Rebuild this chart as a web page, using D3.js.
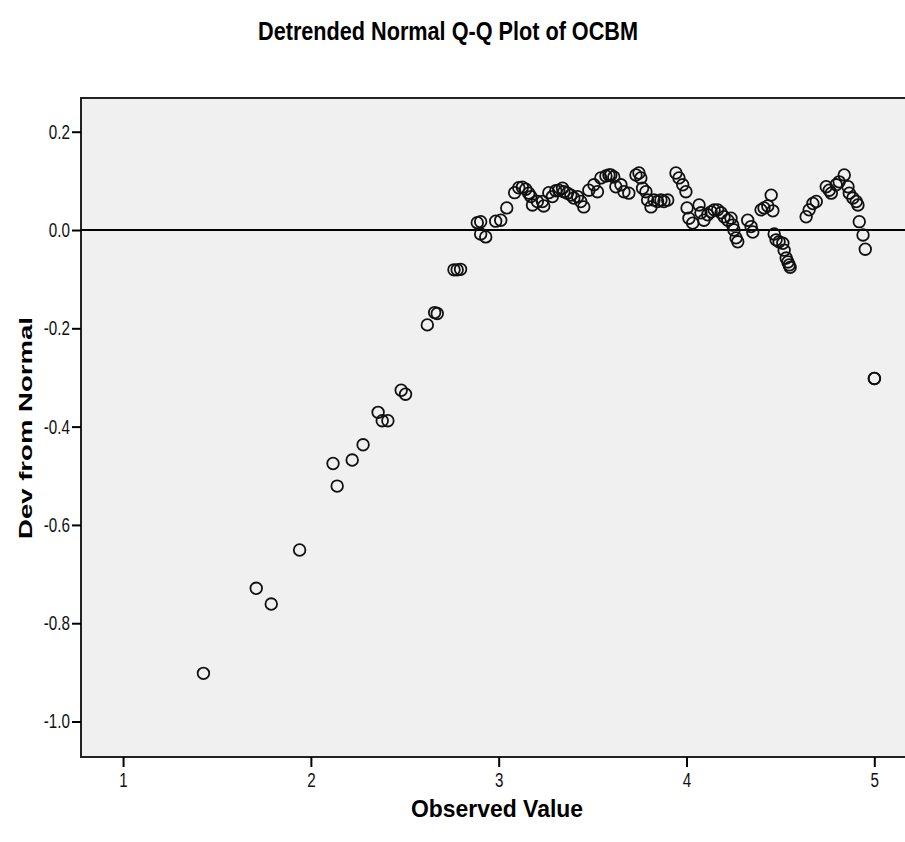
<!DOCTYPE html>
<html>
<head>
<meta charset="utf-8">
<script src="https://cdn.jsdelivr.net/npm/d3@7"></script>
<style>
  body { margin: 0; background: #fff; }
  text { font-family: "Liberation Sans", Arial, sans-serif; }
</style>
</head>
<body>
<svg id="qq"></svg>
<script>
var observed = [
  1.428, 1.709, 1.789, 1.940, 2.118, 2.140, 2.220, 2.278, 2.358, 2.380, 2.410,
  2.481, 2.504, 2.620, 2.659, 2.673, 2.762, 2.779, 2.797,
  2.886, 2.904, 2.904, 2.931, 2.984, 3.011, 3.043, 3.085, 3.107, 3.126, 3.144,
  3.160, 3.171, 3.180, 3.206, 3.233, 3.240, 3.267, 3.286, 3.304, 3.320, 3.340,
  3.347, 3.366, 3.384, 3.400, 3.420, 3.437, 3.453, 3.480, 3.507, 3.526, 3.544,
  3.571, 3.587, 3.597, 3.613, 3.624, 3.651, 3.667, 3.693, 3.731, 3.747, 3.757,
  3.766, 3.784, 3.793, 3.811, 3.827, 3.846, 3.864, 3.880, 3.900, 3.944, 3.960,
  3.980, 3.997, 4.003, 4.013, 4.033, 4.067, 4.077, 4.093, 4.113, 4.131, 4.147,
  4.166, 4.184, 4.200, 4.220, 4.237, 4.246, 4.253, 4.264, 4.273, 4.326, 4.344,
  4.353, 4.397, 4.413, 4.433, 4.451, 4.460, 4.467, 4.477, 4.493, 4.513, 4.520,
  4.531, 4.540, 4.547, 4.552, 4.637, 4.653, 4.673, 4.691, 4.744, 4.760, 4.771,
  4.797, 4.813, 4.840, 4.860, 4.867, 4.886, 4.904, 4.913, 4.920, 4.940, 4.952,
  5.000, 5.001
];
var devFromNormal = [
  -0.902, -0.729, -0.761, -0.651, -0.475, -0.521, -0.468, -0.437, -0.371, -0.388, -0.388,
  -0.326, -0.334, -0.193, -0.168, -0.170, -0.081, -0.081, -0.080,
  0.015, 0.017, -0.008, -0.014, 0.018, 0.020, 0.045, 0.076, 0.086, 0.087, 0.083,
  0.075, 0.068, 0.051, 0.058, 0.058, 0.049, 0.076, 0.068, 0.080, 0.081, 0.085,
  0.078, 0.075, 0.071, 0.065, 0.068, 0.058, 0.047, 0.081, 0.092, 0.078, 0.106,
  0.110, 0.112, 0.112, 0.108, 0.088, 0.092, 0.078, 0.075, 0.112, 0.116, 0.106,
  0.085, 0.078, 0.061, 0.047, 0.061, 0.058, 0.061, 0.058, 0.061, 0.116, 0.106,
  0.092, 0.078, 0.045, 0.024, 0.014, 0.051, 0.035, 0.020, 0.031, 0.037, 0.041,
  0.041, 0.035, 0.027, 0.020, 0.024, 0.010, 0.000, -0.016, -0.024, 0.020, 0.007,
  -0.004, 0.041, 0.045, 0.049, 0.071, 0.039, -0.008, -0.020, -0.024, -0.027, -0.041,
  -0.057, -0.065, -0.071, -0.076, 0.027, 0.041, 0.054, 0.058, 0.088, 0.081, 0.075,
  0.092, 0.098, 0.112, 0.088, 0.075, 0.065, 0.058, 0.051, 0.017, -0.010, -0.039,
  -0.302, -0.302
];
var xTicks = [1, 2, 3, 4, 5];
var yTicks = [0.2, 0.0, -0.2, -0.4, -0.6, -0.8, -1.0];

var data = observed.map(function(v, i) { return {x: v, y: devFromNormal[i]}; });

var width = 905, height = 842;
var plot = {left: 81, top: 98, right: 925, bottom: 757};

var svg = d3.select("#qq")
  .attr("width", width)
  .attr("height", height);

var x = d3.scaleLinear()
  .domain([0.776, 5.27])
  .range([plot.left, plot.right]);

var y = d3.scaleLinear()
  .domain([-1.0722, 0.2686])
  .range([plot.bottom, plot.top]);

// squeeze text horizontally so it looks like the narrow SPSS font
function condense(sel, k) {
  sel.each(function() {
    var w = this.getComputedTextLength();
    d3.select(this)
      .attr("textLength", w * k)
      .attr("lengthAdjust", "spacingAndGlyphs");
  });
}

// plot background
svg.append("rect")
  .attr("x", plot.left)
  .attr("y", plot.top)
  .attr("width", plot.right - plot.left)
  .attr("height", plot.bottom - plot.top)
  .attr("fill", "#f0f0f0")
  .attr("stroke", "#222")
  .attr("stroke-width", 2);

// reference line at zero
svg.append("line")
  .attr("x1", plot.left)
  .attr("x2", plot.right)
  .attr("y1", y(0))
  .attr("y2", y(0))
  .attr("stroke", "#000")
  .attr("stroke-width", 2);

// Y axis
var yAxis = svg.append("g")
  .attr("transform", "translate(" + plot.left + ",0)")
  .call(d3.axisLeft(y).tickValues(yTicks)
    .tickFormat(function(d) { return d3.format(".1f")(d).replace("\u2212", "-"); })
    .tickSize(9).tickPadding(2));
yAxis.select(".domain").remove();
yAxis.selectAll(".tick line").attr("stroke", "#000").attr("stroke-width", 2);
yAxis.selectAll("text")
  .style("font-size", "20px")
  .attr("fill", "#111")
  .call(condense, 0.76);

// X axis
var xAxis = svg.append("g")
  .attr("transform", "translate(0," + plot.bottom + ")")
  .call(d3.axisBottom(x).tickValues(xTicks).tickFormat(d3.format("d")).tickSize(10).tickPadding(6));
xAxis.select(".domain").remove();
xAxis.selectAll(".tick line").attr("stroke", "#000").attr("stroke-width", 2);
xAxis.selectAll("text")
  .style("font-size", "20px")
  .attr("fill", "#111")
  .call(condense, 0.76);

// points
svg.append("g")
  .selectAll("circle")
  .data(data)
  .enter()
  .append("circle")
  .attr("cx", function(d) { return x(d.x); })
  .attr("cy", function(d) { return y(d.y); })
  .attr("r", 5.8)
  .attr("fill", "none")
  .attr("stroke", "#111")
  .attr("stroke-width", 1.8);

// title
svg.append("text")
  .attr("x", 448)
  .attr("y", 40)
  .attr("text-anchor", "middle")
  .style("font-size", "25px")
  .style("font-weight", "bold")
  .attr("textLength", 380)
  .attr("lengthAdjust", "spacingAndGlyphs")
  .text("Detrended Normal Q-Q Plot of OCBM");

// axis titles
svg.append("text")
  .attr("x", 497)
  .attr("y", 817)
  .attr("text-anchor", "middle")
  .style("font-size", "24px")
  .style("font-weight", "bold")
  .attr("textLength", 172)
  .attr("lengthAdjust", "spacingAndGlyphs")
  .text("Observed Value");

svg.append("text")
  .attr("transform", "translate(32,428) rotate(-90)")
  .attr("text-anchor", "middle")
  .style("font-size", "19px")
  .style("font-weight", "bold")
  .attr("textLength", 222)
  .attr("lengthAdjust", "spacingAndGlyphs")
  .text("Dev from Normal");
</script>
</body>
</html>
